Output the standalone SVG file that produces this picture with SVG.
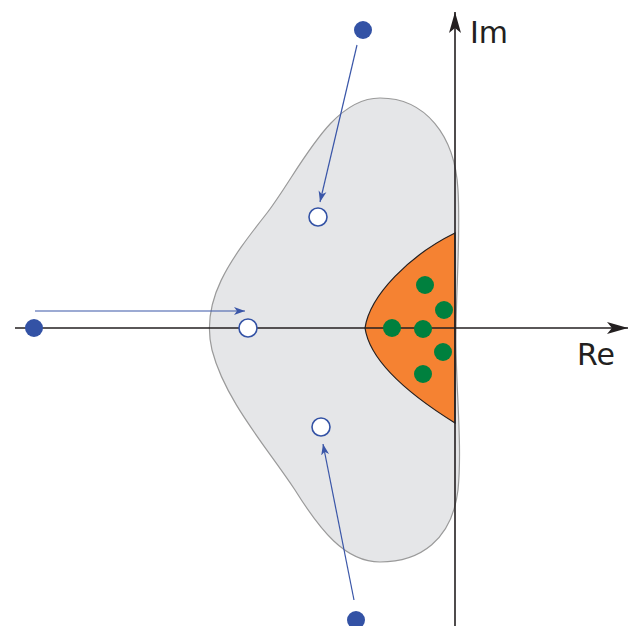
<svg xmlns="http://www.w3.org/2000/svg" width="635" height="626" viewBox="0 0 635 626">
<defs>
<style>
.axis{stroke:#231f20;stroke-width:1.6;fill:none}
.conn{stroke:#3a56a8;stroke-width:1.2;fill:none}
.pole{fill:#3352a5}
.open{fill:#ffffff;stroke:#3352a5;stroke-width:1.6}
.eig{fill:#00803e}
.lbl{font-family:"DejaVu Sans",Verdana,sans-serif;font-size:30px;fill:#231f20}
</style>
<marker id="ah" markerWidth="12" markerHeight="10" refX="11" refY="5" orient="auto" markerUnits="userSpaceOnUse">
<path d="M0,1 L11,5 L0,9 L3,5 Z" fill="#3a56a8"/>
</marker>
<marker id="axh" markerWidth="22" markerHeight="14" refX="21" refY="7" orient="auto" markerUnits="userSpaceOnUse">
<path d="M0,1 L21,7 L0,13 L5,7 Z" fill="#231f20"/>
</marker>
</defs>
<g id="region">
<path d="M380,98 C425,98 455,135 458,190 C461,240 455,300 456,350 C457,400 462,450 458,490 C452,540 420,562 380,562 C345,562 320,530 295,490 C265,445 225,400 212,350 C200,300 230,260 267,213 C300,170 330,98 380,98 Z" fill="#e5e6e8" stroke="#9a9a9a" stroke-width="1.2"/>
</g>
<g id="stable-region">
<path d="M455,233 C410,255 370,295 365,328 C370,362 410,395 455,423 Z" fill="#f58232" stroke="#231f20" stroke-width="1.2"/>
</g>
<g id="axes">
<line class="axis" x1="15" y1="328" x2="628" y2="328" marker-end="url(#axh)"/>
<line class="axis" x1="455" y1="626" x2="455" y2="12" marker-end="url(#axh)"/>
<text class="lbl" x="470" y="43">Im</text>
<text class="lbl" x="577" y="365">Re</text>
</g>
<g id="connectors">
<line class="conn" x1="357" y1="45" x2="320" y2="202" marker-end="url(#ah)"/>
<line class="conn" x1="35" y1="311" x2="245" y2="311" marker-end="url(#ah)"/>
<line class="conn" x1="354" y1="600" x2="323" y2="444" marker-end="url(#ah)"/>
</g>
<g id="pole-top"><circle class="pole" cx="363" cy="30" r="9"/></g>
<g id="pole-left"><circle class="pole" cx="34" cy="328" r="9"/></g>
<g id="pole-bottom"><circle class="pole" cx="356" cy="620" r="9"/></g>
<g id="target-top"><circle class="open" cx="318" cy="217" r="9"/></g>
<g id="target-left"><circle class="open" cx="248" cy="328" r="9"/></g>
<g id="target-bottom"><circle class="open" cx="321" cy="427" r="9"/></g>
<g id="eigs">
<circle class="eig" cx="425" cy="285" r="9"/>
<circle class="eig" cx="444" cy="310" r="9"/>
<circle class="eig" cx="392" cy="328" r="9"/>
<circle class="eig" cx="423" cy="329" r="9"/>
<circle class="eig" cx="443" cy="352" r="9"/>
<circle class="eig" cx="423" cy="374" r="9"/>
</g>
</svg>
